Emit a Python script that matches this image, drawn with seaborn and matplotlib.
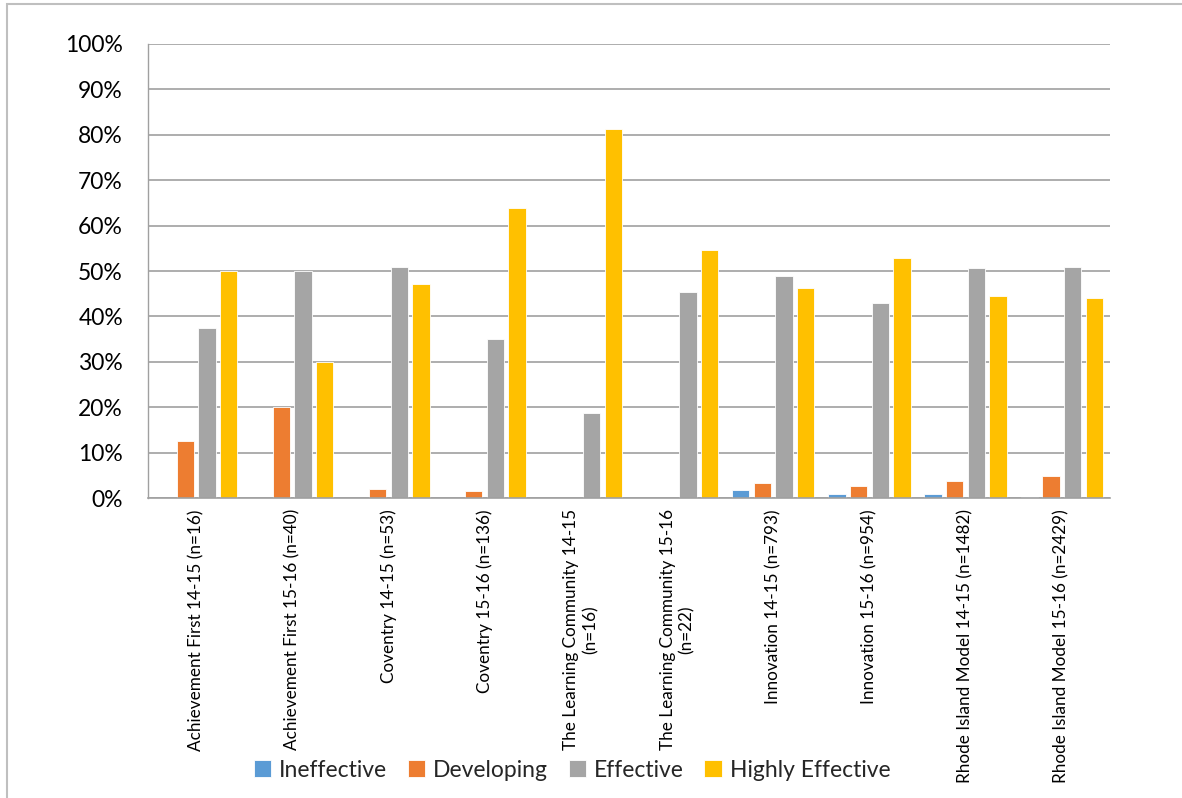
import matplotlib
matplotlib.use("Agg")
import matplotlib.pyplot as plt
from matplotlib.patches import Rectangle
from matplotlib.ticker import FuncFormatter
import pandas as pd
import seaborn as sns

categories = [
    "Achievement First 14-15 (n=16)",
    "Achievement First 15-16 (n=40)",
    "Coventry 14-15 (n=53)",
    "Coventry 15-16 (n=136)",
    "The Learning Community 14-15\n(n=16)",
    "The Learning Community 15-16\n(n=22)",
    "Innovation 14-15 (n=793)",
    "Innovation 15-16 (n=954)",
    "Rhode Island Model 14-15 (n=1482)",
    "Rhode Island Model 15-16 (n=2429)",
]
ratings = ["Ineffective", "Developing", "Effective", "Highly Effective"]

ineffective = [0, 0, 0, 0, 0, 0, 1.8, 0.8, 0.9, 0.3]
developing = [12.5, 20.0, 1.9, 1.5, 0, 0, 3.3, 2.6, 3.7, 4.9]
effective = [37.5, 50.0, 50.9, 35.0, 18.75, 45.45, 48.9, 42.9, 50.6, 50.8]
highly_effective = [50.0, 30.0, 47.2, 63.9, 81.25, 54.55, 46.2, 52.9, 44.4, 44.0]

colors = ["#5B9BD5", "#ED7D31", "#A5A5A5", "#FFC000"]

series = [ineffective, developing, effective, highly_effective]
df = pd.DataFrame(
    [
        {"category": c, "rating": r, "value": v}
        for r, vals in zip(ratings, series)
        for c, v in zip(categories, vals)
    ]
)

sns.set_theme(style="white")
plt.rcParams["font.family"] = ["Lato", "DejaVu Sans"]

fig = plt.figure(figsize=(11.82, 7.98), dpi=100)
ax = fig.add_axes([0.1252, 0.3759, 0.8138, 0.569])

sns.barplot(
    data=df, x="category", y="value", hue="rating",
    order=categories, hue_order=ratings, palette=colors, saturation=1,
    width=0.9, gap=0.2, edgecolor="white", linewidth=0.6,
    ax=ax, legend=True,
)

ax.set_ylim(0, 100)
ax.set_xlim(-0.5, len(categories) - 0.5)
ax.set_yticks(range(0, 101, 10))
ax.yaxis.set_major_formatter(FuncFormatter(lambda v, _: f"{int(v)}%"))
ax.yaxis.grid(True, color="#A0A0A0", linewidth=1.2)
ax.set_axisbelow(True)
ax.set_xlabel("")
ax.set_ylabel("")

for side in ["top", "right"]:
    ax.spines[side].set_visible(False)
ax.spines["left"].set_color("#A0A0A0")
ax.spines["bottom"].set_color("#A0A0A0")
ax.spines["left"].set_linewidth(1.0)
ax.spines["bottom"].set_linewidth(1.2)

ax.tick_params(axis="y", length=0, pad=18, labelsize=16.5, colors="#000000")
ax.tick_params(axis="x", length=0, pad=8, labelsize=12.3, colors="#000000")
for lbl in ax.get_xticklabels():
    lbl.set_rotation(90)
    lbl.set_ha("center")
    lbl.set_va("top")
    lbl.set_multialignment("center")

handles, labels = ax.get_legend_handles_labels()
ax.get_legend().remove()
fig.legend(
    handles, labels, loc="center", bbox_to_anchor=(0.484, 0.035),
    ncol=4, frameon=False, fontsize=16.5, handlelength=0.75, handleheight=0.75,
    handletextpad=0.35, columnspacing=0.9,
)

# light frame around the chart area
fig.patches.append(
    Rectangle((7 / 1182, -0.05), 1.1, 1 - 4 / 798 + 0.05,
              transform=fig.transFigure, fill=False,
              edgecolor="#BFBFBF", linewidth=1.5)
)

fig.savefig("out.png", dpi=100)
